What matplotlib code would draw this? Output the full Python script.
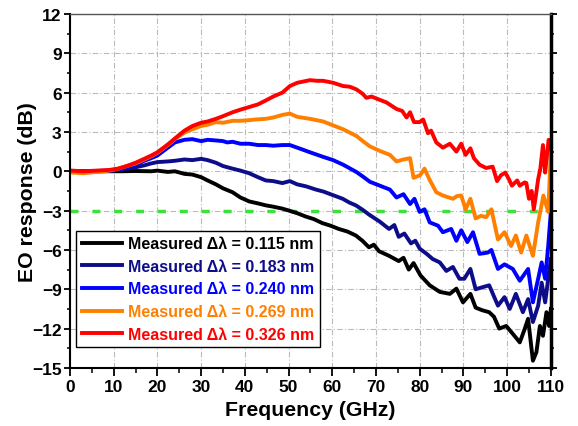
import matplotlib
matplotlib.use("Agg")
import matplotlib.pyplot as plt
from matplotlib.ticker import MultipleLocator

plt.rcParams["font.family"] = ["Liberation Sans", "DejaVu Sans"]
plt.rcParams["font.weight"] = "bold"

# measured EO response curves (frequency in GHz, response in dB)
f_115 = [0.5, 3, 6, 9, 12, 15, 18.6, 20, 22.4, 24,
         26.2, 28, 30, 31.5, 33.4, 35, 37.2, 39, 41, 43,
         44.8, 46.5, 48.6, 50.1, 52, 53.9, 55.8, 57.7, 59.6, 61.5,
         63.5, 65.4, 66.9, 68.4, 69.5, 70.7, 73, 75.2, 76.3, 77.5,
         78.6, 80.2, 82.3, 84.6, 86.9, 88.4, 89.9, 91.6, 92.8, 94.3,
         95.9, 97, 98.2, 99.8, 101.3, 102.9, 104, 104.8, 105.9, 106.7,
         107.5, 108.2, 109, 109.6, 110]
db_115 = [0.0, -0.02, 0.0, 0.0, 0.0, 0.02, 0.0, 0.05, -0.05, 0.0,
          -0.2, -0.25, -0.45, -0.7, -1.0, -1.3, -1.6, -2.0, -2.3, -2.45,
          -2.6, -2.7, -2.85, -3.0, -3.2, -3.45, -3.65, -3.95, -4.15, -4.4,
          -4.6, -4.9, -5.3, -5.8, -5.6, -6.1, -6.45, -6.85, -6.6, -7.5,
          -7.0, -7.95, -8.7, -9.2, -9.35, -8.95, -10.0, -9.35, -10.4, -10.6,
          -10.75, -11.1, -12.0, -11.8, -12.4, -13.05, -12.05, -11.25, -14.45, -13.8,
          -11.8, -12.55, -10.75, -11.8, -10.5]

f_183 = [0.5, 3, 6, 9, 11, 13, 15, 17, 18.6, 20,
         22.4, 24, 26.2, 28, 30, 31.5, 33.4, 35, 37.2, 39,
         41, 43, 44.8, 46.5, 48.6, 50.3, 52, 54, 56.3, 58,
         60, 62.4, 64, 65.4, 67, 68.4, 70.9, 73, 74.2, 75.2,
         76.5, 78, 79, 80, 81.6, 83, 84.6, 86.1, 87.6, 89.1,
         90.2, 91.6, 92.8, 94.3, 95.9, 97.9, 99.4, 100.6, 102, 103.6,
         104.8, 105.9, 107.1, 107.9, 108.7, 109.4, 110]
db_183 = [0.0, 0.0, 0.0, 0.02, 0.1, 0.2, 0.3, 0.45, 0.6, 0.7,
          0.75, 0.8, 0.9, 0.85, 0.95, 0.85, 0.65, 0.4, 0.2, 0.05,
          -0.15, -0.45, -0.7, -0.75, -0.9, -0.75, -1.0, -1.15, -1.4, -1.55,
          -1.8, -2.1, -2.4, -2.6, -2.95, -3.3, -3.85, -4.4, -4.1, -5.0,
          -4.75, -5.5, -5.3, -5.9, -6.3, -6.7, -6.95, -7.6, -7.3, -8.2,
          -8.2, -7.45, -9.0, -8.85, -8.7, -10.25, -9.6, -10.5, -9.35, -10.75,
          -9.75, -11.5, -10.25, -8.5, -10.0, -8.2, -6.7]

f_240 = [0.5, 3, 6, 9, 11, 13, 15, 17, 18.6, 20,
         22.4, 24, 26.2, 28, 30, 31.5, 33.4, 35, 36, 37.2,
         39, 41, 43, 44.8, 46.5, 48.6, 50.3, 52, 54.9, 57.9,
         60.2, 62.5, 65.5, 67, 68.6, 70.9, 73.2, 74.7, 76.3, 77.8,
         78.8, 80, 81.1, 82.3, 84.2, 85.3, 87.2, 88.4, 89.5, 90.9,
         92.2, 93.7, 95.6, 96.4, 97.9, 99.4, 101.3, 102.9, 104.8, 105.9,
         107.1, 107.9, 108.7, 109.4, 110]
db_240 = [0.0, 0.0, 0.02, 0.05, 0.15, 0.3, 0.5, 0.8, 1.0, 1.2,
          1.8, 2.2, 2.4, 2.45, 2.3, 2.4, 2.35, 2.3, 2.2, 2.25,
          2.1, 2.1, 2.0, 2.0, 1.95, 2.0, 2.0, 1.8, 1.45, 1.1,
          0.85, 0.5, -0.05, -0.4, -0.8, -1.1, -1.4, -2.0, -1.75, -2.5,
          -2.1, -3.1, -2.9, -3.9, -4.15, -4.65, -4.4, -5.3, -4.5, -5.4,
          -4.65, -6.3, -6.2, -6.0, -7.45, -7.1, -7.45, -8.35, -7.45, -10.0,
          -8.2, -6.95, -8.2, -5.7, -3.1]

f_269 = [0.5, 3, 6, 9, 11, 13, 15, 17, 18.6, 20,
         22.4, 24, 26.2, 28, 30, 31.5, 33.4, 35, 37.2, 39,
         41, 42.5, 44.8, 46.5, 48.6, 50.3, 52, 54.9, 57.9, 60.2,
         62.5, 65.5, 67, 68.6, 70.9, 73.2, 74.7, 76.3, 77.8, 78.6,
         80.1, 81.1, 82.2, 83.8, 85.3, 87.6, 88.5, 89.5, 90.5, 91.6,
         92.8, 94, 95.2, 96.4, 97.9, 99.4, 100.9, 102, 103.2, 104.4,
         105.9, 107.1, 108.3, 109.4, 110]
db_269 = [-0.1, -0.15, -0.05, 0.05, 0.2, 0.4, 0.6, 0.9, 1.15, 1.4,
          2.0, 2.45, 2.95, 3.2, 3.45, 3.55, 3.75, 3.7, 3.85, 3.85,
          3.9, 3.95, 4.0, 4.1, 4.3, 4.4, 4.15, 4.0, 3.8, 3.5,
          3.2, 2.7, 2.3, 1.9, 1.55, 1.25, 0.75, 0.9, 1.0, -0.5,
          -0.3, 0.2, -0.6, -1.6, -1.85, -2.1, -1.9, -1.85, -2.9, -2.1,
          -3.6, -3.4, -3.5, -2.9, -5.2, -4.65, -5.7, -4.9, -6.2, -4.9,
          -6.45, -3.9, -1.85, -3.1, 1.45]

f_326 = [0.5, 3, 6, 9, 11, 13, 15, 17, 18.6, 20,
         22.4, 24, 26.2, 28, 30, 31.5, 33.4, 35, 37.2, 39,
         41, 43, 44.8, 46.5, 48.6, 50.3, 52, 54.9, 56.5, 57.9,
         60.2, 62.5, 64, 65.5, 67, 67.8, 69, 70.1, 72.4, 74.7,
         76, 77, 77.8, 78.7, 80, 80.8, 81.9, 82.6, 83.8, 85.3,
         86.9, 88.4, 89.5, 90.5, 91.6, 92.4, 93.7, 95.2, 96.7, 97.7,
         98.6, 99.6, 100.4, 101.1, 102.3, 102.9, 104.0, 104.4, 105.0, 105.6,
         106.1, 106.6, 107.1, 107.6, 108.2, 108.7, 109.2, 109.5, 110]
db_326 = [0.05, 0.0, 0.05, 0.1, 0.2, 0.4, 0.65, 0.95, 1.2, 1.45,
          2.05, 2.5, 3.1, 3.45, 3.7, 3.8, 4.0, 4.2, 4.5, 4.7,
          4.9, 5.1, 5.4, 5.7, 6.0, 6.5, 6.75, 6.95, 6.9, 6.9,
          6.75, 6.5, 6.45, 6.25, 5.9, 5.6, 5.7, 5.55, 5.25, 4.75,
          4.6, 4.1, 4.5, 3.75, 3.75, 3.95, 2.9, 3.1, 2.2, 1.8,
          2.1, 1.5, 2.1, 1.25, 1.75, 1.0, 0.5, 0.25, 0.35, -0.75,
          -0.3, -0.1, -0.6, -1.1, -0.7, -1.1, -0.85, -0.9, -2.1, -1.5,
          -2.9, -1.8, -0.6, 0.2, 2.0, -0.1, 1.5, 2.4, 1.7]

labels = ["Measured Δλ = 0.115 nm", "Measured Δλ = 0.183 nm",
          "Measured Δλ = 0.240 nm", "Measured Δλ = 0.269 nm",
          "Measured Δλ = 0.326 nm"]
colors = ["#000000", "#0d0d8a", "#0000ff", "#ff8000", "#ff0000"]
series = [(f_115, db_115), (f_183, db_183), (f_240, db_240),
          (f_269, db_269), (f_326, db_326)]

fig = plt.figure(figsize=(5.78, 4.27), dpi=100)
ax = fig.add_axes([0.121, 0.136, 0.832, 0.829])

for (f, db), c, lab in zip(series, colors, labels):
    ax.plot(f, db, color=c, lw=2.8, label=lab, solid_joinstyle="round")

# -3 dB reference
ax.axhline(-3, color="#3ee03e", lw=2.5, dashes=(2.3, 4.0), zorder=1)

ax.set_xlim(0, 110)
ax.set_ylim(-15, 12)
ax.xaxis.set_major_locator(MultipleLocator(10))
ax.xaxis.set_minor_locator(MultipleLocator(5))
ax.yaxis.set_major_locator(MultipleLocator(3))
ax.yaxis.set_minor_locator(MultipleLocator(1.5))

ax.grid(True, which="major", color="#bbbbbb", lw=0.8,
        linestyle=(0, (5, 2, 1, 2)))
ax.set_axisbelow(True)

ax.tick_params(which="major", direction="out", length=6, width=1.3,
               labelsize=12.5, pad=2)
ax.tick_params(which="minor", direction="out", length=3.5, width=1.1)
ax.tick_params(axis="y", which="major", right=True, labelright=False, length=4)
ax.tick_params(axis="y", which="minor", right=True, length=2.5)
for lab in ax.get_xticklabels() + ax.get_yticklabels():
    lab.set_fontweight("bold")

ax.spines["left"].set_linewidth(1.5)
ax.spines["bottom"].set_linewidth(1.5)
ax.spines["right"].set_linewidth(2.5)
ax.spines["top"].set_linewidth(1.0)
ax.spines["top"].set_color("#555555")

ax.set_xlabel("Frequency (GHz)", fontsize=15.3, fontweight="bold", labelpad=4.5)
ax.set_ylabel("EO response (dB)", fontsize=15.3, fontweight="bold", labelpad=-3.5)

leg = ax.legend(loc="lower left", bbox_to_anchor=(0.013, 0.058),
                borderaxespad=0, fontsize=11.5, labelcolor="linecolor",
                handlelength=2.5, handletextpad=0.4, labelspacing=0.48,
                borderpad=0.35, fancybox=False, framealpha=1,
                edgecolor="black")
leg.get_frame().set_linewidth(1.0)
for t in leg.get_texts():
    t.set_fontweight("bold")

fig.savefig("out.png", dpi=100)
